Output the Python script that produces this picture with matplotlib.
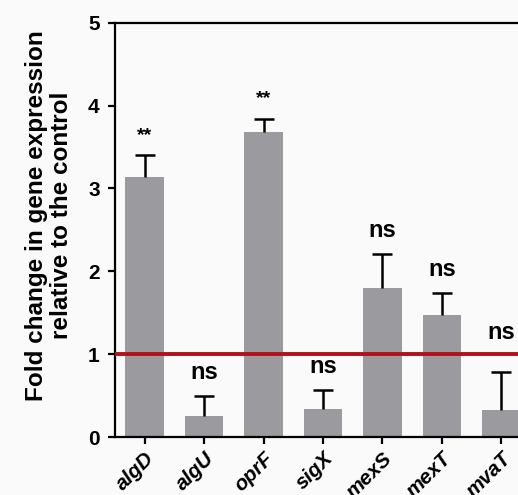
import matplotlib
matplotlib.use("Agg")
import matplotlib.pyplot as plt
import numpy as np

genes = ["algD", "algU", "oprF", "sigX", "mexS", "mexT", "mvaT"]
fold_change = [3.14, 0.25, 3.68, 0.34, 1.80, 1.47, 0.33]
errors = [0.26, 0.25, 0.16, 0.23, 0.41, 0.27, 0.46]
signif = ["**", "ns", "**", "ns", "ns", "ns", "ns"]
yticks = [0, 1, 2, 3, 4, 5]

plt.rcParams['font.family'] = ['Liberation Sans', 'DejaVu Sans']

fig = plt.figure(figsize=(5.18, 4.95), dpi=100, facecolor="#fafafa")
ax = fig.add_axes([0.222, 0.117, 0.803, 0.837])
ax.set_facecolor("#fafafa")

x = np.arange(len(genes))
ax.bar(x, fold_change, width=0.65, color="#9b9a9f", zorder=2)
eb = ax.errorbar(x, fold_change, yerr=[np.zeros(len(x)), errors], fmt="none",
                 ecolor="black", elinewidth=1.8, capsize=7, capthick=1.8, zorder=3)
eb[1][0].set_visible(False)
ax.axhline(1, color="#b3111a", lw=2.8, zorder=4)

for xi, v, e, s in zip(x, fold_change, errors, signif):
    ty = v + e + 0.14
    if ty < 1 and ty + 0.25 > 1:
        ty = 1.12  # keep the label clear of the reference line
    if s == "**":
        ax.text(xi, ty, s, ha="center", va="bottom", fontsize=14,
                fontweight="bold")
    else:
        ax.text(xi, ty, s, ha="center", va="bottom", fontsize=17,
                fontweight="bold")

ax.set_xlim(-0.5, 6.5)
ax.set_ylim(0, 5)
ax.set_yticks(yticks)
ax.set_yticklabels([str(t) for t in yticks], fontsize=15, fontweight="bold")
ax.set_xticks(x)
ax.set_xticklabels(genes, rotation=45, ha="right", rotation_mode="anchor",
                   fontsize=15, fontweight="bold", fontstyle="italic")
for sp in ax.spines.values():
    sp.set_linewidth(1.6)
ax.tick_params(axis="both", width=1.6, length=5, direction="out")
ax.tick_params(axis="y", pad=6)

fig.text(0.095, 0.565, "Fold change in gene expression\nrelative to the control",
         rotation=90, ha="center", va="center", fontsize=17.5, fontweight="bold",
         linespacing=1.1)

fig.savefig("out.png", dpi=100, facecolor=fig.get_facecolor())
